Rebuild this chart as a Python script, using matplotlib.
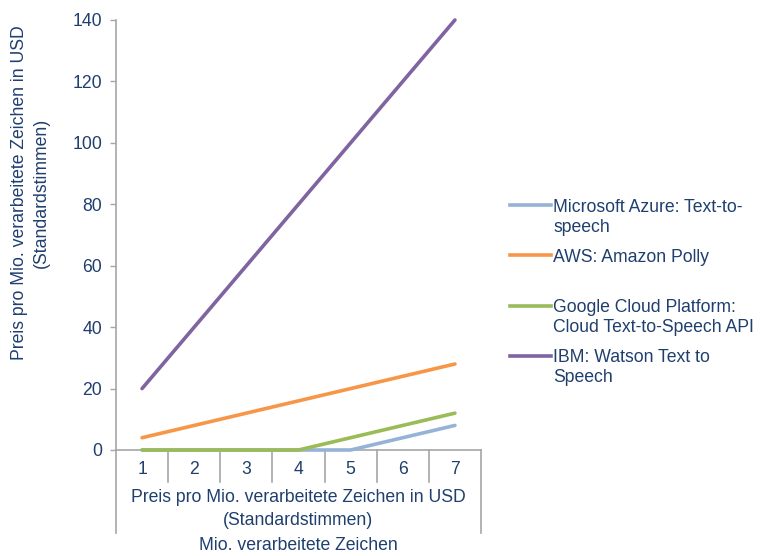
import matplotlib
matplotlib.use("Agg")
import matplotlib.pyplot as plt
from matplotlib.lines import Line2D

categories = ["1", "2", "3", "4", "5", "6", "7"]
series_names = [
    "Microsoft Azure: Text-to-\nspeech",
    "AWS: Amazon Polly",
    "Google Cloud Platform:\nCloud Text-to-Speech API",
    "IBM: Watson Text to\nSpeech",
]
azure = [0, 0, 0, 0, 0, 4, 8]
aws = [4, 8, 12, 16, 20, 24, 28]
google = [0, 0, 0, 0, 4, 8, 12]
ibm = [20, 40, 60, 80, 100, 120, 140]
y_ticks = [0, 20, 40, 60, 80, 100, 120, 140]
group_label = "Preis pro Mio. verarbeitete Zeichen in USD\n(Standardstimmen)"
x_title = "Mio. verarbeitete Zeichen"
y_title = "Preis pro Mio. verarbeitete Zeichen in USD\n(Standardstimmen)"

colors = ["#95B3D7", "#F79646", "#9BBB59", "#8064A2"]
text_color = "#1F3F6F"
axis_color = "#A6A6A6"
FS = 12.7

plt.rcParams["font.family"] = ["Liberation Sans", "DejaVu Sans"]

fig = plt.figure(figsize=(7.6, 5.56), dpi=100)
W, H = 760, 556
x0, x1, ytop, ybot = 116, 481, 20, 450
ax = fig.add_axes([x0 / W, 1 - ybot / H, (x1 - x0) / W, (ybot - ytop) / H])

xs = list(range(len(categories)))
lines = []
for vals, c in zip([azure, aws, google, ibm], colors):
    ln, = ax.plot(xs, vals, color=c, lw=2.6, solid_capstyle="round", clip_on=False, zorder=3)
    lines.append(ln)

ax.set_xlim(-0.5, len(categories) - 0.5)
ax.set_ylim(0, 140)
ax.set_yticks(y_ticks)
ax.set_yticklabels([str(v) for v in y_ticks], fontsize=FS, color=text_color)
ax.tick_params(axis="y", direction="out", length=4, width=1, color=axis_color, pad=6)
ax.set_xticks([])
for s in ["top", "right"]:
    ax.spines[s].set_visible(False)
ax.spines["left"].set_color(axis_color)
ax.spines["bottom"].set_color(axis_color)
ax.spines["left"].set_linewidth(1.2)
ax.spines["bottom"].set_linewidth(1.2)

# category table below axis
ph = ybot - ytop  # axes height in px
def ay(px):
    return -(px - ybot) / ph

trans = ax.get_xaxis_transform()
for i in range(1, len(categories)):
    ax.add_line(Line2D([i - 0.5, i - 0.5], [0, ay(482)], transform=trans, color=axis_color, lw=1.2, clip_on=False))
for xb in [-0.5, len(categories) - 0.5]:
    ax.add_line(Line2D([xb, xb], [0, ay(533)], transform=trans, color=axis_color, lw=1.2, clip_on=False))
for i, lab in enumerate(categories):
    ax.text(i, ay(470), lab, transform=trans, ha="center", va="center", fontsize=FS, color=text_color)
ax.text((len(categories) - 1) / 2, ay(509), group_label, transform=trans, ha="center", va="center",
        fontsize=FS, color=text_color, linespacing=1.42, multialignment="center")
ax.text((len(categories) - 1) / 2, ay(546), x_title, transform=trans, ha="center", va="center",
        fontsize=FS, color=text_color)

fig.text(30 / W, 1 - 193 / H, y_title, rotation=90, ha="center", va="center", fontsize=FS,
         color=text_color, linespacing=1.38, multialignment="center")

# legend
leg_y = [205, 255, 306, 356]
LINE_PX = 20
for ln, name, yy in zip(lines, series_names, leg_y):
    fig.add_artist(Line2D([510 / W, 551 / W], [1 - yy / H, 1 - yy / H], color=ln.get_color(), lw=2.6))
    for k, part in enumerate(name.split("\n")):
        fig.text(553 / W, 1 - (yy + 6.5 + k * LINE_PX) / H, part, ha="left", va="baseline",
                 fontsize=FS, color=text_color)

fig.savefig("out.png", dpi=100)
